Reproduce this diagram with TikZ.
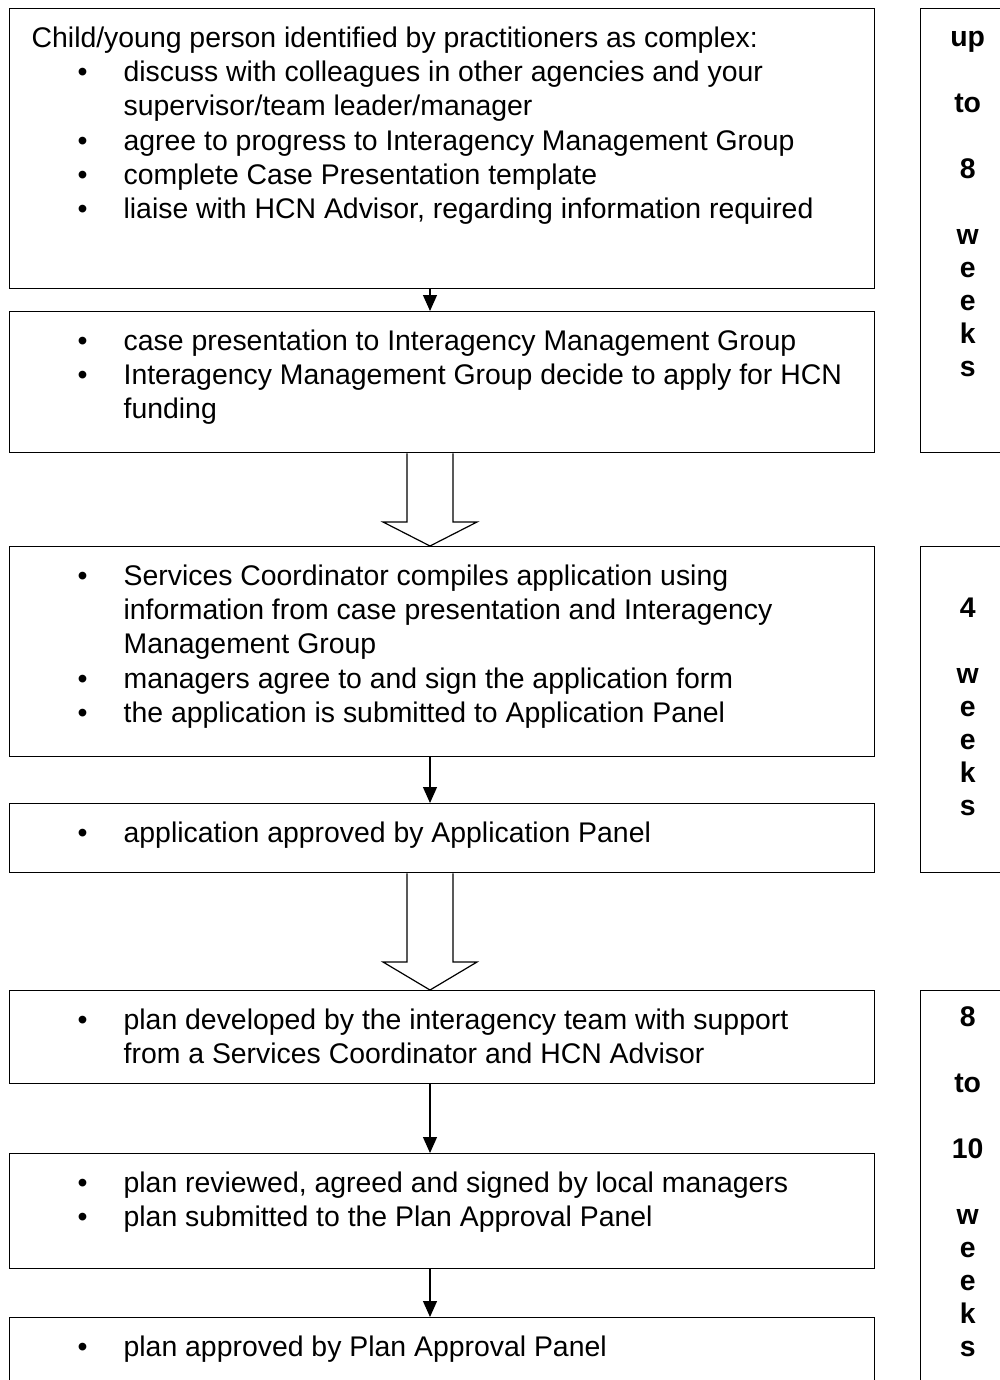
\documentclass[tikz,border=0pt]{standalone}
\usepackage{fontspec}
\setmainfont{Liberation Sans}
\usetikzlibrary{arrows.meta,calc}

\newcommand{\blt}[1]{\par\hangindent=114pt\hangafter=1\noindent\strut\hspace*{68pt}\makebox[46pt][l]{\textbullet}#1}
\newcommand{\boxtext}[2]{\begin{minipage}[t][#1pt][t]{865pt}\raggedright\vspace*{15pt}#2\end{minipage}}
\newcommand{\sidetext}[3]{\begin{minipage}[t][#1pt][t]{94pt}\centering\bfseries\fontsize{28.4}{33}\selectfont\vspace*{#2pt}\strut #3\end{minipage}}
\newcommand{\fatarrow}[3]{\draw[fatarr] let \p1=(#1.south -| ax), \p2=(#2.north -| ax) in
  (\x1-23pt,\y1) -- (\x1-23pt,\y2+#3pt) -- (\x1-47pt,\y2+#3pt) -- (\p2)
  -- (\x1+47pt,\y2+#3pt) -- (\x1+23pt,\y2+#3pt) -- (\x1+23pt,\y1);}

\begin{document}
\begin{tikzpicture}[x=1pt, y=-1pt,
  font=\fontsize{28.4}{34.2}\selectfont,
  mainbox/.style={draw, line width=1.3pt, anchor=north west, inner sep=0pt},
  sidebox/.style={draw, line width=1.3pt, anchor=north west, inner sep=0pt},
  thin arr/.style={line width=1.2pt, -{Triangle[width=14pt,length=16pt]}},
  fatarr/.style={line width=1.2pt, line join=miter}
  ]
  \useasboundingbox (0,0) rectangle (1000,1380);
  \coordinate (ax) at (430,0);
  \node[mainbox] (b1) at (9,8) {\boxtext{280}{\strut\hspace*{22pt}Child/young person identified by practitioners as complex:
    \blt{discuss with colleagues in other agencies and your\newline supervisor/team leader/manager}
    \blt{agree to progress to Interagency Management Group}
    \blt{complete Case Presentation template}
    \blt{liaise with HCN Advisor, regarding information required}}};
  \node[mainbox] (b2) at (9,311) {\boxtext{141}{%
    \blt{case presentation to Interagency Management Group}
    \blt{Interagency Management Group decide to apply for HCN\newline funding}}};
  \node[mainbox] (b3) at (9,546) {\boxtext{210}{%
    \blt{Services Coordinator compiles application using\newline information from case presentation and Interagency\newline Management Group}
    \blt{managers agree to and sign the application form}
    \blt{the application is submitted to Application Panel}}};
  \node[mainbox] (b4) at (9,803) {\boxtext{69}{%
    \blt{application approved by Application Panel}}};
  \node[mainbox] (b5) at (9,990) {\boxtext{93}{%
    \blt{plan developed by the interagency team with support\newline from a Services Coordinator and HCN Advisor}}};
  \node[mainbox] (b6) at (9,1153) {\boxtext{115}{%
    \blt{plan reviewed, agreed and signed by local managers}
    \blt{plan submitted to the Plan Approval Panel}}};
  \node[mainbox] (b7) at (9,1317) {\boxtext{90}{%
    \blt{plan approved by Plan Approval Panel}}};

  \node[sidebox] (s1) at (920,8) {\sidetext{444}{15}{up\\[33pt]to\\[33pt]8\\[33pt]w\\e\\e\\k\\s}};
  \node[sidebox] (s2) at (920,546) {\sidetext{326}{48}{4\\[33pt]w\\e\\e\\k\\s}};
  \node[sidebox] (s3) at (920,990) {\sidetext{420}{13}{8\\[33pt]to\\[33pt]10\\[33pt]w\\e\\e\\k\\s}};

  \draw[thin arr] (b1.south -| ax) -- (b2.north -| ax);
  \draw[thin arr] (b3.south -| ax) -- (b4.north -| ax);
  \draw[thin arr] (b5.south -| ax) -- (b6.north -| ax);
  \draw[thin arr] (b6.south -| ax) -- (b7.north -| ax);
  \fatarrow{b2}{b3}{24}
  \fatarrow{b4}{b5}{28}
\end{tikzpicture}
\end{document}
